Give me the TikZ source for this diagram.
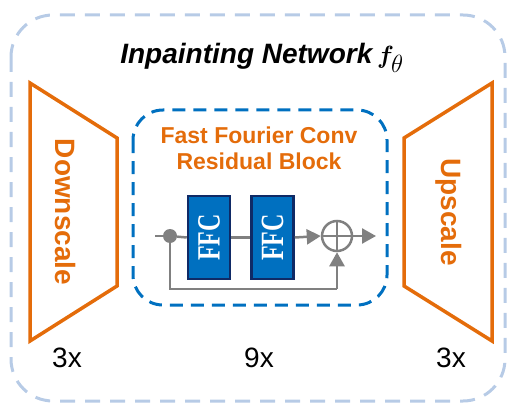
\documentclass[tikz,border=0pt]{standalone}
\usepackage{fontspec}
\usepackage{bm}
\setmainfont{Liberation Sans}
\newfontfamily\serifface{Liberation Serif}
\usetikzlibrary{arrows.meta}
\definecolor{outerdash}{HTML}{B7CBE6}
\definecolor{innerdash}{HTML}{0070C0}
\definecolor{scaleorange}{HTML}{E46C0A}
\definecolor{ffcfill}{HTML}{0070C0}
\definecolor{ffcedge}{HTML}{0F2A66}
\definecolor{flowgray}{HTML}{808080}
\tikzset{
  outerbox/.style={draw=outerdash, line width=3pt, dash pattern=on 15pt off 10pt, rounded corners=42pt},
  innerbox/.style={draw=innerdash, line width=3pt, dash pattern=on 13pt off 8pt, rounded corners=30pt},
  scaler/.style={draw=scaleorange, line width=3.5pt, line join=miter},
  scalelabel/.style={text=scaleorange, font=\fontsize{28}{30}\selectfont\bfseries},
  ffcbox/.style={draw=ffcedge, fill=ffcfill, line width=2.5pt, minimum width=42pt, minimum height=83pt, inner sep=0pt},
  flow/.style={draw=flowgray, line width=2.5pt},
  arrowflow/.style={flow, -{Triangle[length=14pt,width=15pt]}},
  countlabel/.style={font=\fontsize{28}{30}\selectfont, anchor=base},
}
\begin{document}
\begin{tikzpicture}[x=1pt,y=-1pt]
\useasboundingbox (0,0) rectangle (510,406);

% outer network frame and title
\draw[outerbox] (11,15) rectangle (505,401);
\node (title) at (262,58) {\fontsize{28}{30}\selectfont\bfseries\itshape Inpainting Network\,%
  {\fontsize{38}{40}\selectfont$\bm{f}_{\theta}$}};

% downscale / upscale trapezoids
\draw[scaler] (30,83) -- (117,138) -- (117,286) -- (30,341) -- cycle;
\node[scalelabel, rotate=-90] (down) at (66,212) {Downscale};
\draw[scaler] (492,83) -- (404,138) -- (404,286) -- (492,341) -- cycle;
\node[scalelabel, rotate=-90] (up) at (449,212) {Upscale};

% repeat counts
\node[countlabel] (c1) at (67,367) {3x};
\node[countlabel] (c2) at (259,367) {9x};
\node[countlabel] (c3) at (451,367) {3x};

% residual block frame
\draw[innerbox] (133,110) rectangle (387,305);
\node[text=scaleorange, font=\fontsize{23}{26}\selectfont\bfseries, align=center] (blocktitle) at (259,148)
  {Fast Fourier Conv\\Residual Block};

% FFC units
\node[ffcbox] (ffc1) at (209,237.5) {};
\node[ffcbox] (ffc2) at (272.5,237.5) {};
\node[rotate=90, text=white] at (ffc1) {\serifface\bfseries\fontsize{24}{24}\selectfont\scalebox{1}[1.35]{FFC}};
\node[rotate=90, text=white] at (ffc2) {\serifface\bfseries\fontsize{24}{24}\selectfont\scalebox{1}[1.35]{FFC}};

% residual path
\coordinate (in) at (155,236);
\node[circle, fill=flowgray, minimum size=14pt, inner sep=0pt] (split) at (170,236) {};
\node[circle, draw=flowgray, line width=2.5pt, minimum size=30pt, inner sep=0pt] (sum) at (337,236) {};
\draw[flow] (sum.north) -- (sum.south) (sum.west) -- (sum.east);
\coordinate (out) at (376,236);
\coordinate (skipL) at (170,289);
\coordinate (skipR) at (337,289);

\draw[flow] (in) -- (split);
\draw[flow] (split) -- (ffc1.west);
\draw[flow] (ffc1.east) -- (ffc2.west);
\draw[arrowflow] (ffc2.east) -- (sum.west);
\draw[arrowflow] (sum.east) -- (out);
\draw[flow] (split) -- (skipL) -- (skipR);
\draw[arrowflow] (skipR) -- (sum.south);
\end{tikzpicture}
\end{document}
